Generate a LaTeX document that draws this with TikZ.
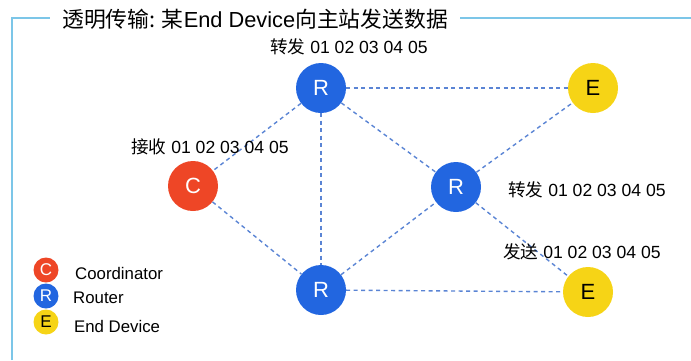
\documentclass[tikz,border=0pt]{standalone}
\usepackage{fontspec}
\setmainfont{Liberation Sans}
\newfontfamily\cjk{Noto Sans CJK SC}
\definecolor{framec}{HTML}{7CC6E8}
\definecolor{edgec}{HTML}{5A84D4}
\definecolor{cred}{HTML}{EE4626}
\definecolor{rblue}{HTML}{2266E0}
\definecolor{eyel}{HTML}{F6D416}
\begin{document}
\begin{tikzpicture}[x=1pt,y=-1pt,
  dev/.style={circle,minimum size=50pt,inner sep=0pt,font=\fontsize{22}{22}\selectfont},
  coord/.style={dev,fill=cred,text=white},
  router/.style={dev,fill=rblue,text=white},
  enddev/.style={dev,fill=eyel,text=black},
  legc/.style={circle,minimum size=25pt,inner sep=0pt,font=\fontsize{17}{17}\selectfont},
  link/.style={edgec,line width=1.4pt,dash pattern=on 4pt off 3.5pt},
  lbl/.style={font=\fontsize{17.6}{18}\selectfont,inner sep=0pt,anchor=west},
  legt/.style={font=\fontsize{16.8}{17}\selectfont,inner sep=0pt,anchor=west}]
\useasboundingbox (0,0) rectangle (691,360);
% frame
\coordinate (f1) at (12,360);
\coordinate (f2) at (12,18);
\coordinate (f3) at (50,18);
\coordinate (f4) at (460,18);
\coordinate (f5) at (691,18);
\draw[framec,line width=1.8pt] (f1) -- (f2) -- (f3);
\draw[framec,line width=1.8pt] (f4) -- (f5);
\node[anchor=west,inner sep=0pt,font=\fontsize{21.8}{22}\selectfont] (title) at (62,19)
  {{\cjk 透明传输: 某}End Device{\cjk 向主站发送数据}};
% nodes
\node[router] (r1) at (321,88) {R};
\node[enddev] (e1) at (593,88) {E};
\node[coord] (c) at (193,186) {C};
\node[router] (r2) at (456,187) {R};
\node[router] (r3) at (321,290) {R};
\node[enddev] (e2) at (588,292) {E};
% links
\draw[link] (r1) -- (e1);
\draw[link] (r1) -- (c);
\draw[link] (r1) -- (r3);
\draw[link] (r1) -- (r2);
\draw[link] (c) -- (r3);
\draw[link] (r3) -- (r2);
\draw[link] (r3) -- (e2);
\draw[link] (r2) -- (e1);
\draw[link] (r2) -- (e2);
% labels
\node[lbl] (l1) at (270,47) {{\cjk 转发} 01 02 03 04 05};
\node[lbl] (l2) at (131,147) {{\cjk 接收} 01 02 03 04 05};
\node[lbl] (l3) at (508,190) {{\cjk 转发} 01 02 03 04 05};
\node[lbl] (l4) at (503,252) {{\cjk 发送} 01 02 03 04 05};
% legend
\node[legc,fill=cred,text=white] (lc) at (46,270) {C};
\node[legc,fill=rblue,text=white] (lr) at (46,296) {R};
\node[legc,fill=eyel,text=black] (le) at (46,322) {E};
\node[legt] (tc) at (75,273) {Coordinator};
\node[legt] (tr) at (73,298) {Router};
\node[legt] (te) at (74,326) {End Device};
\end{tikzpicture}
\end{document}
